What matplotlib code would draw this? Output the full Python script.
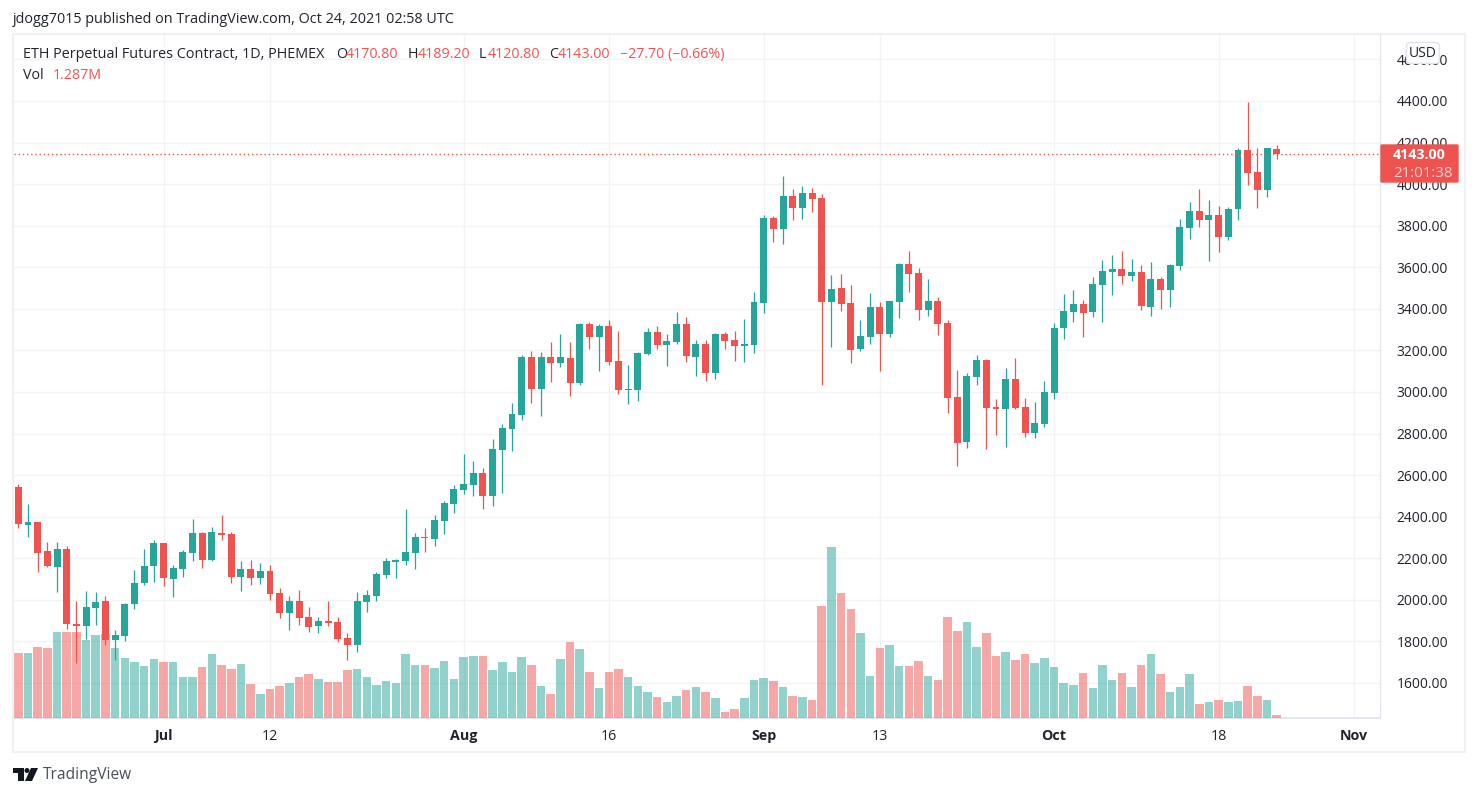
import matplotlib
matplotlib.use("Agg")
import matplotlib.pyplot as plt
from matplotlib.patches import Rectangle, FancyBboxPatch, Polygon, Circle

# -----------------------------
# DATA (daily candles, Jun 16 -> Oct 24 2021)
# -----------------------------
opens = [2543, 2360, 2374, 2235, 2158, 2245, 1884, 1874, 1961, 1994, 1807, 1826, 1980, 2081, 2163, 2273, 2100, 2148, 2225, 2322,
         2192, 2322, 2317, 2110, 2148, 2105, 2139, 2033, 1937, 1994, 1917, 1874, 1898, 1893, 1816, 1783, 1990, 2019, 2120, 2182,
         2187, 2226, 2303, 2293, 2379, 2461, 2528, 2553, 2610, 2500, 2721, 2822, 2889, 3168, 3014, 3168, 3140, 3164, 3043, 3327,
         3265, 3317, 3149, 3010, 3010, 3183, 3289, 3226, 3240, 3327, 3168, 3231, 3091, 3279, 3250, 3221, 3226, 3428, 3837, 3784,
         3943, 3885, 3957, 3933, 3433, 3500, 3428, 3207, 3265, 3409, 3279, 3433, 3616, 3572, 3394, 3438, 3332, 2976, 2759, 3072,
         3154, 2928, 2918, 3062, 2928, 2803, 2846, 2995, 3308, 3385, 3423, 3385, 3515, 3577, 3592, 3558, 3577, 3409, 3544, 3491,
         3606, 3789, 3871, 3828, 3852, 3746, 3880, 4164, 4059, 3972, 4170.8]
highs = [2557, 2461, 2374, 2278, 2278, 2259, 1994, 2043, 2038, 2018, 1855, 1985, 2144, 2245, 2288, 2273, 2168, 2240, 2389, 2326,
         2350, 2408, 2326, 2187, 2192, 2177, 2168, 2057, 2018, 2047, 1966, 1917, 1994, 1917, 1840, 2038, 2048, 2134, 2201, 2197,
         2437, 2322, 2346, 2408, 2476, 2553, 2702, 2668, 2634, 2774, 2846, 2947, 3178, 3197, 3192, 3241, 3279, 3241, 3332, 3337,
         3327, 3346, 3293, 3130, 3192, 3308, 3317, 3279, 3385, 3361, 3250, 3250, 3284, 3289, 3293, 3351, 3481, 3851, 3847, 4039,
         3977, 3991, 3981, 3953, 3563, 3568, 3515, 3346, 3476, 3433, 3438, 3621, 3678, 3597, 3544, 3457, 3346, 3106, 3091, 3178,
         3159, 2966, 3115, 3164, 2971, 2952, 3053, 3332, 3472, 3491, 3443, 3553, 3635, 3659, 3678, 3640, 3611, 3625, 3553, 3616,
         3832, 3914, 3977, 3924, 3895, 3890, 4174, 4395, 4174, 4174, 4189.2]
lows = [2346, 2302, 2134, 2158, 2038, 1860, 1696, 1812, 1879, 1783, 1711, 1802, 1956, 2071, 2086, 2067, 2014, 2110, 2187, 2153,
        2187, 2288, 2081, 2043, 2071, 2076, 1999, 1913, 1855, 1879, 1845, 1840, 1874, 1797, 1711, 1749, 1942, 1995, 2105, 2105,
        2168, 2149, 2230, 2259, 2317, 2418, 2509, 2500, 2437, 2452, 2514, 2716, 2865, 2947, 2885, 3048, 3120, 2981, 3034, 3207,
        3101, 3130, 2990, 2942, 2957, 3178, 3207, 3125, 3231, 3144, 3077, 3053, 3062, 3207, 3149, 3144, 3188, 3380, 3722, 3712,
        3827, 3832, 3866, 3034, 3216, 3390, 3139, 3197, 3231, 3101, 3265, 3356, 3481, 3346, 3366, 3274, 2899, 2644, 2731, 3034,
        2726, 2793, 2735, 2918, 2783, 2779, 2832, 2966, 3255, 3337, 3265, 3361, 3337, 3467, 3520, 3534, 3395, 3366, 3399, 3409,
        3587, 3736, 3794, 3630, 3674, 3731, 3828, 3996, 3885, 3938, 4120.8]
closes = [2365, 2374, 2225, 2163, 2245, 1884, 1874, 1966, 1990, 1807, 1831, 1980, 2081, 2163, 2273, 2105, 2153, 2230, 2322, 2192,
          2326, 2312, 2110, 2148, 2105, 2139, 2028, 1937, 1994, 1913, 1869, 1898, 1889, 1812, 1783, 1995, 2023, 2124, 2187, 2192,
          2230, 2303, 2298, 2384, 2466, 2533, 2557, 2610, 2500, 2726, 2827, 2894, 3168, 3014, 3168, 3140, 3168, 3043, 3327, 3265,
          3317, 3144, 3010, 3014, 3188, 3289, 3226, 3245, 3327, 3173, 3231, 3091, 3279, 3245, 3221, 3231, 3433, 3837, 3784, 3943,
          3885, 3957, 3928, 3433, 3495, 3423, 3202, 3269, 3409, 3279, 3438, 3616, 3568, 3394, 3438, 3327, 2971, 2755, 3077, 3154,
          2923, 2918, 3062, 2923, 2803, 2851, 3000, 3308, 3390, 3423, 3380, 3520, 3582, 3592, 3558, 3577, 3414, 3544, 3491, 3611,
          3794, 3871, 3828, 3852, 3746, 3880, 4164, 4054, 3972, 4174, 4143]
# volume in millions
volumes = [27.9, 27.9, 30.5, 30.0, 36.9, 36.9, 36.9, 33.5, 35.6, 36.0, 30.0, 25.7, 24.0, 22.3, 25.3, 24.0, 24.0, 17.6, 17.6, 21.9,
           27.5, 22.7, 21.0, 23.2, 14.6, 10.3, 12.4, 13.7, 15.0, 17.6, 18.9, 16.7, 15.4, 15.4, 20.6, 21.0, 17.6, 14.2, 15.9, 15.0,
           27.5, 22.7, 22.7, 21.5, 24.5, 16.7, 26.2, 26.6, 26.6, 20.6, 24.0, 19.7, 26.2, 22.7, 13.7, 10.3, 25.3, 32.6, 29.6, 19.7,
           12.9, 19.7, 21.0, 17.6, 13.7, 11.2, 9.0, 6.9, 9.4, 12.0, 13.3, 11.2, 8.6, 2.6, 3.9, 8.6, 16.3, 17.2, 15.9, 13.3,
           9.4, 9.0, 7.7, 48.0, 73.4, 53.6, 46.8, 36.5, 18.0, 30.0, 31.3, 22.3, 22.3, 24.5, 18.0, 16.3, 43.3, 37.3, 41.2, 30.5,
           36.5, 26.6, 28.3, 24.9, 27.5, 23.6, 25.7, 21.9, 15.0, 14.2, 19.3, 12.9, 22.7, 16.3, 19.3, 13.3, 22.7, 27.5, 18.9, 11.2,
           13.3, 18.9, 6.0, 6.9, 7.7, 6.9, 7.3, 13.7, 9.4, 7.7, 1.287]

time_ticks = [15, 26, 46, 61, 77, 89, 107, 124, 138]
time_labels = ["Jul", "12", "Aug", "16", "Sep", "13", "Oct", "18", "Nov"]
bold_labels = ["Jul", "Aug", "Sep", "Oct", "Nov"]
price_ticks = list(range(1600, 4800, 200))
last_price = 4143.00

# -----------------------------
# STYLE
# -----------------------------
GREEN = "#26a69a"
RED = "#ef5350"
GRID = "#f2f3f5"
FRAME = "#f0f1f7"
BORDER = "#e0e3eb"
TEXT = "#20232c"
FONT = "Open Sans"
W, H = 1478, 797
XLIM = (-0.445, 140.67)
YLIM = (1431.6, 4717.5)

plt.rcParams["font.family"] = [FONT, "DejaVu Sans"]

fig = plt.figure(figsize=(W / 100, H / 100), dpi=100, facecolor="white")
# three layers: grid + tick labels, then translucent volume, then candles
ax = fig.add_axes([14 / W, (H - 718) / H, (1380 - 14) / W, 683 / H], zorder=1)
vol_ax = fig.add_axes(ax.get_position(), zorder=2, sharex=ax)
candle_ax = fig.add_axes(ax.get_position(), zorder=3, sharex=ax)
for extra in [vol_ax, candle_ax]:
    extra.patch.set_visible(False)
    extra.set_yticks([])
    extra.tick_params(bottom=False, labelbottom=False)
    for spine in extra.spines.values():
        spine.set_visible(False)

# -----------------------------
# Candles + volume
# -----------------------------
idx = list(range(len(opens)))
colors = [GREEN if c >= o else RED for o, c in zip(opens, closes)]

candle_ax.vlines(idx, lows, highs, colors=colors, linewidth=0.9, zorder=3)
body_low = [min(o, c) for o, c in zip(opens, closes)]
body_h = [abs(o - c) for o, c in zip(opens, closes)]
candle_ax.bar(idx, body_h, bottom=body_low, width=0.72, color=colors, linewidth=0, zorder=4)
candle_ax.axhline(last_price, color=RED, linewidth=1, linestyle=(0, (1, 2)), zorder=5)
candle_ax.set_ylim(*YLIM)

vol_ax.bar(idx, volumes, width=0.88, color=colors, alpha=0.5, linewidth=0)
vol_ax.set_ylim(0, 293)

# -----------------------------
# Axes
# -----------------------------
ax.set_xlim(*XLIM)
ax.set_ylim(*YLIM)
ax.set_xticks(time_ticks)
ax.set_xticklabels(time_labels, fontsize=10.3, color=TEXT)
for lab in ax.get_xticklabels():
    if lab.get_text() in bold_labels:
        lab.set_fontweight("bold")
ax.set_yticks(price_ticks)
ax.set_yticklabels([f"{p:.2f}" for p in price_ticks], fontsize=10, color=TEXT)
ax.yaxis.tick_right()
ax.tick_params(axis="x", length=0, pad=8)
ax.tick_params(axis="y", length=0, pad=12)
ax.grid(True, color=GRID, linewidth=1)
ax.set_axisbelow(True)
ax.spines["top"].set_visible(False)
ax.spines["left"].set_visible(False)
ax.spines["right"].set_color(BORDER)
ax.spines["bottom"].set_color(BORDER)
ax.spines["bottom"].set_linewidth(1.2)

# -----------------------------
# Overlay in pixel coords (frame, legend, price tag, logo)
# -----------------------------
ov = fig.add_axes([0, 0, 1, 1], zorder=20)
ov.set_xlim(0, W)
ov.set_ylim(H, 0)
ov.axis("off")

ov.add_patch(Rectangle((13, 34), 1452, 718, fill=False, edgecolor=FRAME, linewidth=1.6))

ov.text(13, 19, "jdogg7015 published on TradingView.com, Oct 24, 2021 02:58 UTC", fontsize=10.4, color=TEXT, va="center")
ov.text(23, 54, "ETH Perpetual Futures Contract, 1D, PHEMEX", fontsize=10.4, color=TEXT, va="center")
legend_items = [(336, "O", TEXT), (346, "4170.80", RED), (408, "H", TEXT), (418, "4189.20", RED),
                (479, "L", TEXT), (488, "4120.80", RED), (549, "C", TEXT), (558, "4143.00", RED),
                (620, "\u221227.70 (\u22120.66%)", RED)]
for x, s, c in legend_items:
    ov.text(x, 54, s, fontsize=10.3, color=c, va="center")
ov.text(23, 75, "Vol", fontsize=10.3, color=TEXT, va="center")
ov.text(53, 75, "1.287M", fontsize=10.3, color=RED, va="center")

ov.add_patch(FancyBboxPatch((1406.5, 42.5), 33, 21, boxstyle="round,pad=0,rounding_size=4",
                            facecolor="white", edgecolor=BORDER, linewidth=1))
ov.text(1423, 53, "USD", fontsize=10, color=TEXT, ha="center", va="center")

ov.add_patch(FancyBboxPatch((1381, 145), 77, 37, boxstyle="round,pad=0,rounding_size=1", facecolor=RED, edgecolor=RED, linewidth=1))
ov.text(1393, 154.5, "4143.00", fontsize=10.3, color="white", fontweight="bold", va="center")
ov.text(1393, 173, "21:01:38", fontsize=10.8, color="#ffd4d3", va="center")

# logo
ov.add_patch(Polygon([(13, 768), (24, 768), (24, 781), (18, 781), (18, 773), (13, 773)], facecolor="#131722", edgecolor="none"))
ov.add_patch(Circle((27, 770.5), 2.5, facecolor="#131722", edgecolor="none"))
ov.add_patch(Polygon([(31, 768), (38, 768), (32, 781), (25, 781)], facecolor="#131722", edgecolor="none"))
ov.text(43, 775, "TradingView", fontsize=11.2, color="#4a4e5a", va="center")

fig.savefig("out.png", dpi=100, facecolor="white")
